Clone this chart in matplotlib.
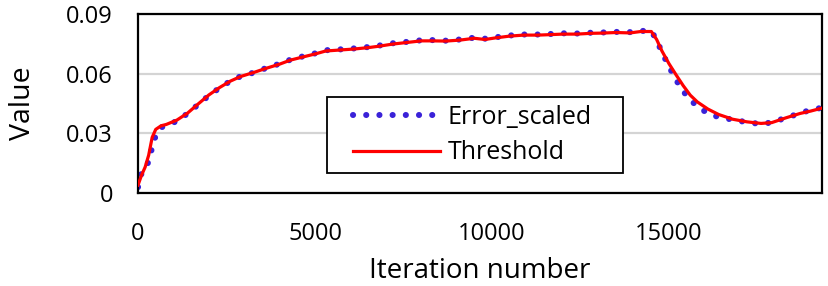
import matplotlib.pyplot as plt
from matplotlib.patches import Rectangle

# values
iterations = [0, 100, 200, 300, 400, 500, 650, 800, 1100, 1400, 1700, 2000, 2300,
              2600, 2900, 3300, 3600, 4000, 4300, 4700, 5000, 5300, 5700, 6100,
              6500, 6800, 7200, 7600, 8000, 8300, 8700, 9100, 9500, 9800, 10100,
              10500, 10900, 11300, 11600, 12000, 12400, 12800, 13100, 13500,
              13900, 14200, 14500, 14650, 14800, 15000, 15200, 15400, 15600,
              15800, 16100, 16400, 16800, 17200, 17600, 17900, 18300, 18700,
              19000, 19300]

threshold = [0.004, 0.009, 0.013, 0.019, 0.028, 0.0320, 0.0338, 0.0345, 0.0367,
             0.0402, 0.0448, 0.0493, 0.0530, 0.0562, 0.0586, 0.0608, 0.0626,
             0.0648, 0.0668, 0.0686, 0.0699, 0.0714, 0.0719, 0.0724, 0.0731,
             0.0738, 0.0749, 0.0757, 0.0765, 0.0765, 0.0764, 0.0769, 0.0778,
             0.0772, 0.0780, 0.0789, 0.0794, 0.0794, 0.0796, 0.0799, 0.0799,
             0.0803, 0.0804, 0.0807, 0.0805, 0.0812, 0.0812, 0.0772, 0.0714,
             0.0650, 0.0594, 0.0540, 0.0492, 0.0458, 0.0422, 0.0395, 0.0371,
             0.0358, 0.0350, 0.0354, 0.0378, 0.0400, 0.0412, 0.0426]

error_scaled = [0.003, 0.010, 0.012, 0.016, 0.023, 0.029, 0.0330, 0.0340, 0.0362,
                0.0400, 0.0445, 0.0490, 0.0528, 0.0562, 0.0587, 0.0607, 0.0627,
                0.0650, 0.0670, 0.0689, 0.0702, 0.0718, 0.0722, 0.0727, 0.0734,
                0.0741, 0.0753, 0.0760, 0.0768, 0.0769, 0.0766, 0.0772, 0.0781,
                0.0776, 0.0783, 0.0792, 0.0797, 0.0797, 0.0799, 0.0803, 0.0802,
                0.0806, 0.0807, 0.0810, 0.0809, 0.0815, 0.0815, 0.0768, 0.0708,
                0.0635, 0.0568, 0.0512, 0.0468, 0.0436, 0.0400, 0.0382, 0.0369,
                0.0356, 0.0347, 0.0355, 0.0378, 0.0401, 0.0418, 0.0428]

y_ticks = [0, 0.03, 0.06, 0.09]
y_tick_labels = ["0", "0.03", "0.06", "0.09"]
x_ticks = [0, 5000, 10000, 15000]

plt.rcParams['font.family'] = ['Open Sans', 'DejaVu Sans']

fig = plt.figure(figsize=(8.29, 2.86), dpi=100)
ax = fig.add_axes([0.1665, 0.325, 0.825, 0.626])

ax.plot(iterations, error_scaled, color='#3a22d8', linewidth=4.4,
        linestyle=(0, (0.01, 2.15)), dash_capstyle='round',
        label='Error_scaled', zorder=2)
ax.plot(iterations, threshold, color='#ff0000', linewidth=2.3,
        label='Threshold', zorder=3)

ax.set_xlim(0, 19320)
ax.set_ylim(0, 0.09)
ax.set_xticks(x_ticks)
ax.set_yticks(y_ticks)
ax.set_yticklabels(y_tick_labels)
ax.tick_params(axis='both', length=0, labelsize=17)
ax.tick_params(axis='y', pad=18)
ax.tick_params(axis='x', pad=21)

ax.yaxis.grid(True, color='#d4d4d4', linewidth=1.6)
ax.set_axisbelow(True)
for sp in ax.spines.values():
    sp.set_linewidth(1.6)
    sp.set_color('black')

ax.set_xlabel('Iteration number', fontsize=20, labelpad=8)
ax.set_ylabel('Value', fontsize=20.5, labelpad=21)

# legend frame drawn separately so the entries can sit inset like the original
ax.add_patch(Rectangle((0.276, 0.112), 0.433, 0.424, transform=ax.transAxes,
                       facecolor='white', edgecolor='black', linewidth=1.3,
                       zorder=4))
leg = ax.legend(loc='center left', bbox_to_anchor=(0.314, 0.324),
                fontsize=18, frameon=False, handlelength=3.5,
                borderaxespad=0, borderpad=0, labelspacing=0.42,
                handletextpad=0.3)
leg.set_zorder(5)

fig.savefig('out.png', dpi=100)
